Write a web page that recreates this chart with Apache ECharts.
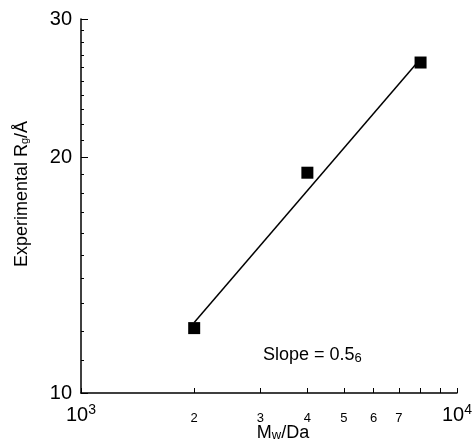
<!DOCTYPE html>
<html>
<head>
<meta charset="utf-8">
<script src="https://cdn.jsdelivr.net/npm/echarts@6/dist/echarts.min.js"></script>
<style>
  html, body { margin: 0; padding: 0; background: #fff; }
  #chart { width: 476px; height: 443px; }
</style>
</head>
<body>
<div id="chart"></div>
<script>
// measured points (Mw in Da, Rg in Angstrom)
const mwValues = [2000, 4000, 8000];
const rgValues = [12.1, 19.1, 26.4];

// fitted power-law line end points
const fitMw = [2000, 8000];
const fitRg = [12.3, 26.7];

// ticks
const xTickValues = [1000, 2000, 3000, 4000, 5000, 6000, 7000, 8000, 9000, 10000];
const xLabelValues = [1000, 2000, 3000, 4000, 5000, 6000, 7000, 10000];
const yMajorTicks = [10, 20, 30];
const yMinorTicks = [11, 12, 13, 14, 15, 16, 17, 18, 19, 21, 22, 23, 24, 25, 26, 27, 28, 29];

const font = '"Liberation Sans", Arial, Helvetica, sans-serif';

const chart = echarts.init(document.getElementById('chart'));

const xLabel = v => {
  if (v === 1000) return '{big|10}{sup|3}';
  if (v === 10000) return '{big|10}{sup|4}';
  return '{small|' + Math.round(v / 1000) + '}';
};

const option = {
  backgroundColor: '#fff',
  animation: false,
  textStyle: { fontFamily: font },
  title: {
    text: 'Slope = 0.5{sub|6}',
    left: 258,
    top: 341,
    textStyle: {
      fontFamily: font,
      fontSize: 18,
      fontWeight: 'normal',
      color: '#000',
      rich: {
        sub: { fontFamily: font, fontSize: 13, color: '#000', padding: [6, 0, 0, 0] }
      }
    }
  },
  grid: { left: 81, right: 19, top: 19, bottom: 50, outerBoundsMode: 'none' },
  xAxis: {
    type: 'log',
    logBase: 10,
    min: 1000,
    max: 10000,
    name: 'M{w|w}/Da',
    nameLocation: 'middle',
    nameGap: 31,
    nameMoveOverlap: false,
    nameTextStyle: {
      fontFamily: font,
      fontSize: 18,
      color: '#000',
      padding: [0, 0, 0, 28],
      rich: { w: { fontFamily: font, fontSize: 13, color: '#000', padding: [4, 0, 0, 0] } }
    },
    axisLine: { lineStyle: { color: '#000', width: 1.5 } },
    axisTick: { inside: true, length: 5, customValues: xTickValues, lineStyle: { color: '#000', width: 1 } },
    axisLabel: {
      customValues: xLabelValues,
      margin: 10,
      color: '#000',
      formatter: xLabel,
      rich: {
        big: { fontFamily: font, fontSize: 20, color: '#000', lineHeight: 22, verticalAlign: 'bottom' },
        sup: { fontFamily: font, fontSize: 14, color: '#000', lineHeight: 22, verticalAlign: 'bottom', padding: [0, 0, 8, 0] },
        small: { fontFamily: font, fontSize: 13, color: '#000', lineHeight: 22, verticalAlign: 'bottom' }
      }
    },
    splitLine: { show: false }
  },
  yAxis: [
    {
      type: 'log',
      logBase: 10,
      min: 10,
      max: 30,
      name: 'Experimental R{sub|g}/Å',
      nameLocation: 'middle',
      nameGap: 50,
      nameMoveOverlap: false,
      nameTextStyle: {
        fontFamily: font,
        fontSize: 18,
        color: '#000',
        padding: [0, 0, 0, 24],
        rich: { sub: { fontFamily: font, fontSize: 11, color: '#000', padding: [6, 0, 0, 0] } }
      },
      axisLine: { lineStyle: { color: '#000', width: 1.5 } },
      axisTick: { inside: true, length: 7, customValues: yMajorTicks, lineStyle: { color: '#000', width: 1 } },
      axisLabel: {
        customValues: yMajorTicks,
        margin: 9,
        color: '#000',
        fontFamily: font,
        fontSize: 20
      },
      splitLine: { show: false }
    },
    {
      type: 'log',
      logBase: 10,
      min: 10,
      max: 30,
      position: 'left',
      axisLine: { show: false },
      axisTick: { inside: true, length: 3, customValues: yMinorTicks, lineStyle: { color: '#000', width: 1 } },
      axisLabel: { show: false },
      splitLine: { show: false }
    }
  ],
  series: [
    {
      name: 'fit',
      type: 'line',
      data: fitMw.map((m, i) => [m, fitRg[i]]),
      symbol: 'none',
      lineStyle: { color: '#000', width: 1.5 },
      z: 2
    },
    {
      name: 'Rg',
      type: 'scatter',
      data: mwValues.map((m, i) => [m, rgValues[i]]),
      symbol: 'rect',
      symbolSize: 12,
      itemStyle: { color: '#000', opacity: 1 },
      z: 3
    }
  ]
};

chart.setOption(option);
</script>
</body>
</html>
